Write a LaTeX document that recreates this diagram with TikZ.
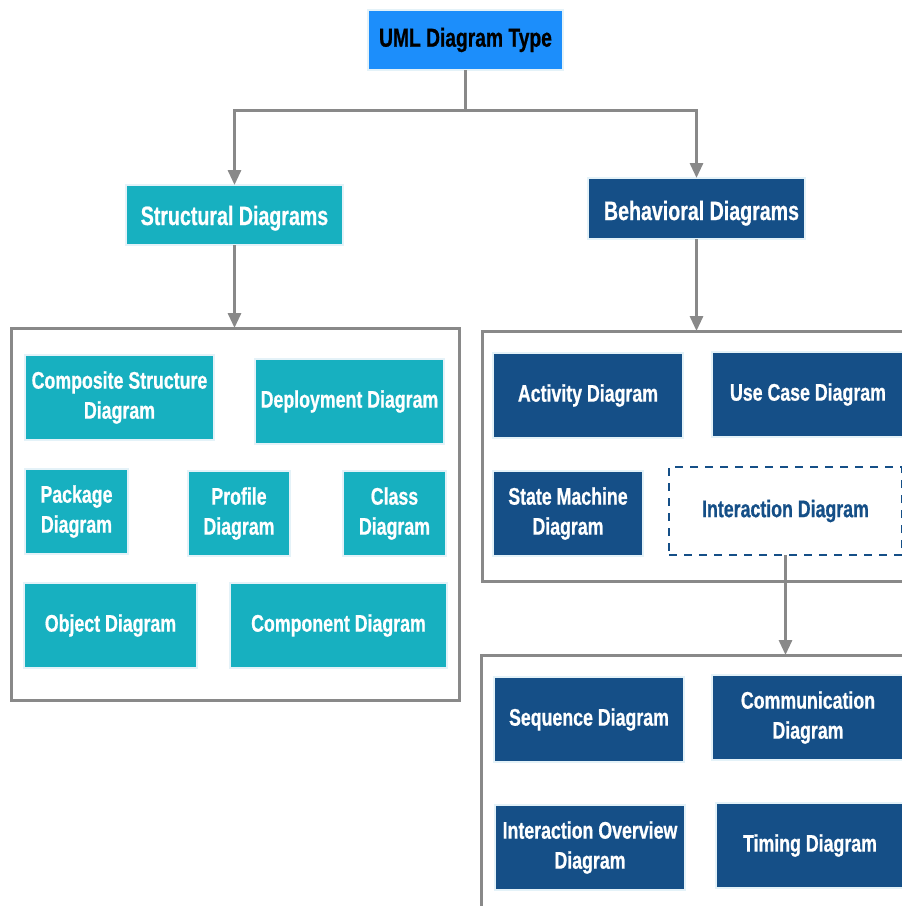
\documentclass[tikz,border=0pt]{standalone}
\usepackage{fontspec}
\setmainfont{Liberation Sans}[FakeStretch=0.74, BoldFeatures={FakeBold=0.7}]
\usetikzlibrary{arrows.meta}

\definecolor{rootblue}{HTML}{1C8EFB}
\definecolor{tealfill}{HTML}{17B0C0}
\definecolor{navyfill}{HTML}{154F87}
\definecolor{wire}{HTML}{898989}
\definecolor{halo}{HTML}{E4F2F8}

\tikzset{
  blockbase/.style={rectangle, inner sep=0pt, outer sep=0pt, align=center,
    draw=halo, line width=2pt, font=\fontsize{24}{30}\selectfont\bfseries},
  headfont/.style={font=\fontsize{26.5}{30}\selectfont\bfseries},
  rootbox/.style={blockbase, font=\fontsize{26}{30}\selectfont\bfseries,
    fill=rootblue, text=black},
  structbox/.style={blockbase, fill=tealfill, text=white},
  behavbox/.style={blockbase, fill=navyfill, text=white},
  dashbox/.style={blockbase, draw=navyfill, line width=2.5pt,
    dash pattern=on 8pt off 7pt, fill=white, text=navyfill},
  groupbox/.style={rectangle, inner sep=0pt, outer sep=0pt, draw=wire, line width=3pt},
  conn/.style={draw=wire, line width=3pt, -{Triangle[width=13pt,length=15pt]}},
  plainconn/.style={draw=wire, line width=3pt},
}

% baseline of a header label, measured down from the box centre
\newcommand\headlabel[2]{\raisebox{-#1}[0pt][0pt]{#2}}

% \diagblock{style}{name}{left}{top}{right}{bottom}{label}
\newcommand\diagblock[7]{%
  \node[#1, minimum width={#5-#3}, minimum height={#6-#4}]
    (#2) at ({(#3+#5)/2},{(#4+#6)/2}) {#7};}

\begin{document}
\begin{tikzpicture}[x=1pt, y=-1pt]
  \clip (0,0) rectangle (902,906);
  \fill[white] (0,0) rectangle (902,906);

  % containers
  \diagblock{groupbox}{leftgrp}{11}{328}{459}{700}{}
  \diagblock{groupbox}{behgrp}{482}{331}{912}{581}{}
  \diagblock{groupbox}{intgrp}{481}{655}{912}{930}{}

  % top levels
  \diagblock{rootbox}{root}{368}{10}{563}{70}{UML Diagram Type}
  \diagblock{structbox, headfont}{struct}{126}{185}{343}{245}{\headlabel{10pt}{Structural Diagrams}}
  \diagblock{behavbox, headfont}{behav}{588}{178}{805}{239}{\headlabel{11.5pt}{\hspace*{10pt}Behavioral Diagrams}}

  % structural diagrams
  \diagblock{structbox}{composite}{25}{355}{214}{440}{Composite Structure\\Diagram}
  \diagblock{structbox}{deploy}{255}{359}{444}{444}{Deployment Diagram}
  \diagblock{structbox}{package}{25}{469}{128}{554}{Package\\Diagram}
  \diagblock{structbox}{profile}{188}{471}{290}{556}{Profile\\Diagram}
  \diagblock{structbox}{class}{343}{471}{446}{556}{Class\\Diagram}
  \diagblock{structbox}{object}{24}{583}{197}{668}{Object Diagram}
  \diagblock{structbox}{component}{230}{583}{447}{668}{Component Diagram}

  % behavioral diagrams
  \diagblock{behavbox}{activity}{493}{353}{683}{438}{Activity Diagram}
  \diagblock{behavbox}{usecase}{712}{352}{904}{437}{Use Case Diagram}
  \diagblock{behavbox}{statemach}{493}{471}{643}{556}{State Machine\\Diagram}
  \diagblock{dashbox}{interact}{669}{467}{902}{555}{Interaction Diagram}

  % interaction diagrams
  \diagblock{behavbox}{sequence}{494}{677}{684}{762}{Sequence Diagram}
  \diagblock{behavbox}{commun}{712}{675}{904}{760}{Communication\\Diagram}
  \diagblock{behavbox}{overview}{495}{805}{685}{890}{Interaction Overview\\Diagram}
  \diagblock{behavbox}{timing}{716}{803}{904}{888}{Timing Diagram}

  % connectors
  \draw[plainconn] (root.south) -- ++(0,40) coordinate (split);
  \draw[conn] (split) -| (struct.north);
  \draw[conn] (split) -| (behav.north);
  \draw[conn] (struct.south) -- (struct.south |- leftgrp.north);
  \draw[conn] (behav.south) -- (behav.south |- behgrp.north);
  \draw[conn] (interact.south) -- (interact.south |- intgrp.north);
\end{tikzpicture}
\end{document}
